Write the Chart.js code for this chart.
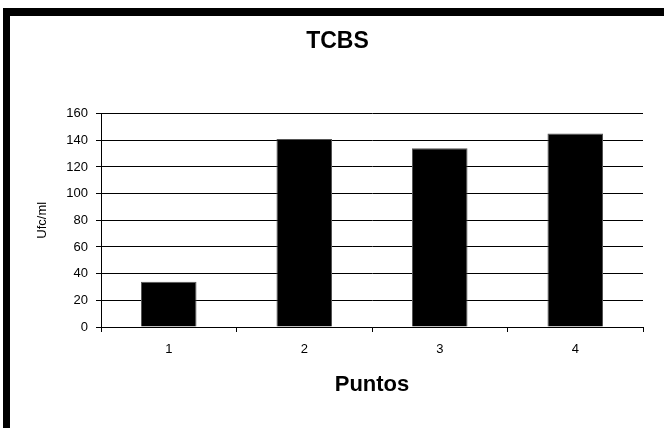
<!DOCTYPE html>
<html>
<head>
<meta charset="utf-8">
<script src="https://cdn.jsdelivr.net/npm/chart.js@4"></script>
<style>
  html, body { margin: 0; padding: 0; background: #fff; }
  #wrap { width: 664px; height: 428px; }
</style>
</head>
<body>
<div id="wrap"><canvas id="tcbs" width="664" height="428"></canvas></div>
<script>
// conteo por punto de muestreo
var puntos = ["1", "2", "3", "4"];
var ufc = [34, 141, 134, 145];
var yTicks = [0, 20, 40, 60, 80, 100, 120, 140, 160];

var fontFam = "'Liberation Sans', Arial, sans-serif";

// marco negro (arriba y a la izquierda) y fondo blanco
var marco = {
    id: 'marco',
    beforeDraw: function(chart) {
        var c = chart.ctx;
        c.save();
        c.fillStyle = '#fff';
        c.fillRect(0, 0, chart.width, chart.height);
        c.fillStyle = '#000';
        c.fillRect(3, 8, chart.width - 3, 8);
        c.fillRect(3, 8, 7, chart.height - 8);
        c.restore();
    }
};

var ctx = document.getElementById("tcbs");
var chart = new Chart(ctx, {
    type: 'bar',
    data: {
        labels: puntos,
        datasets: [{
            label: 'Ufc/ml',
            data: ufc,
            backgroundColor: '#000',
            borderColor: '#555',
            borderWidth: 1,
            barPercentage: 0.41,
            categoryPercentage: 1
        }]
    },
    options: {
        responsive: false,
        animation: false,
        devicePixelRatio: 1,
        layout: {
            padding: { left: 32, right: 21, top: 16, bottom: 0 }
        },
        plugins: {
            legend: { display: false },
            tooltip: { enabled: false },
            title: {
                display: true,
                text: 'TCBS',
                color: '#000',
                font: { family: fontFam, size: 23, weight: 'bold' },
                padding: { top: 12, bottom: 58 }
            }
        },
        scales: {
            x: {
                offset: true,
                border: { color: '#000', width: 1 },
                grid: {
                    offset: true,
                    drawOnChartArea: false,
                    drawTicks: true,
                    tickLength: 5,
                    color: '#000'
                },
                ticks: {
                    color: '#000',
                    padding: 10,
                    font: { family: fontFam, size: 13 }
                },
                title: {
                    display: true,
                    text: 'Puntos',
                    color: '#000',
                    font: { family: fontFam, size: 22, weight: 'bold' },
                    padding: { top: 0, bottom: 30 }
                },
                afterFit: function(scale) { scale.height = 101; }
            },
            y: {
                min: 0,
                max: 160,
                border: { color: '#000', width: 1 },
                grid: {
                    color: '#000',
                    lineWidth: 1,
                    drawTicks: true,
                    tickLength: 5
                },
                afterBuildTicks: function(scale) {
                    scale.ticks = yTicks.map(function(v) { return { value: v }; });
                },
                ticks: {
                    color: '#000',
                    padding: 8,
                    font: { family: fontFam, size: 13 }
                },
                title: {
                    display: true,
                    text: 'Ufc/ml',
                    color: '#000',
                    font: { family: fontFam, size: 13 },
                    padding: { top: 3, bottom: 0 }
                },
                afterFit: function(scale) { scale.width = 69; }
            }
        }
    },
    plugins: [marco]
});
</script>
</body>
</html>
